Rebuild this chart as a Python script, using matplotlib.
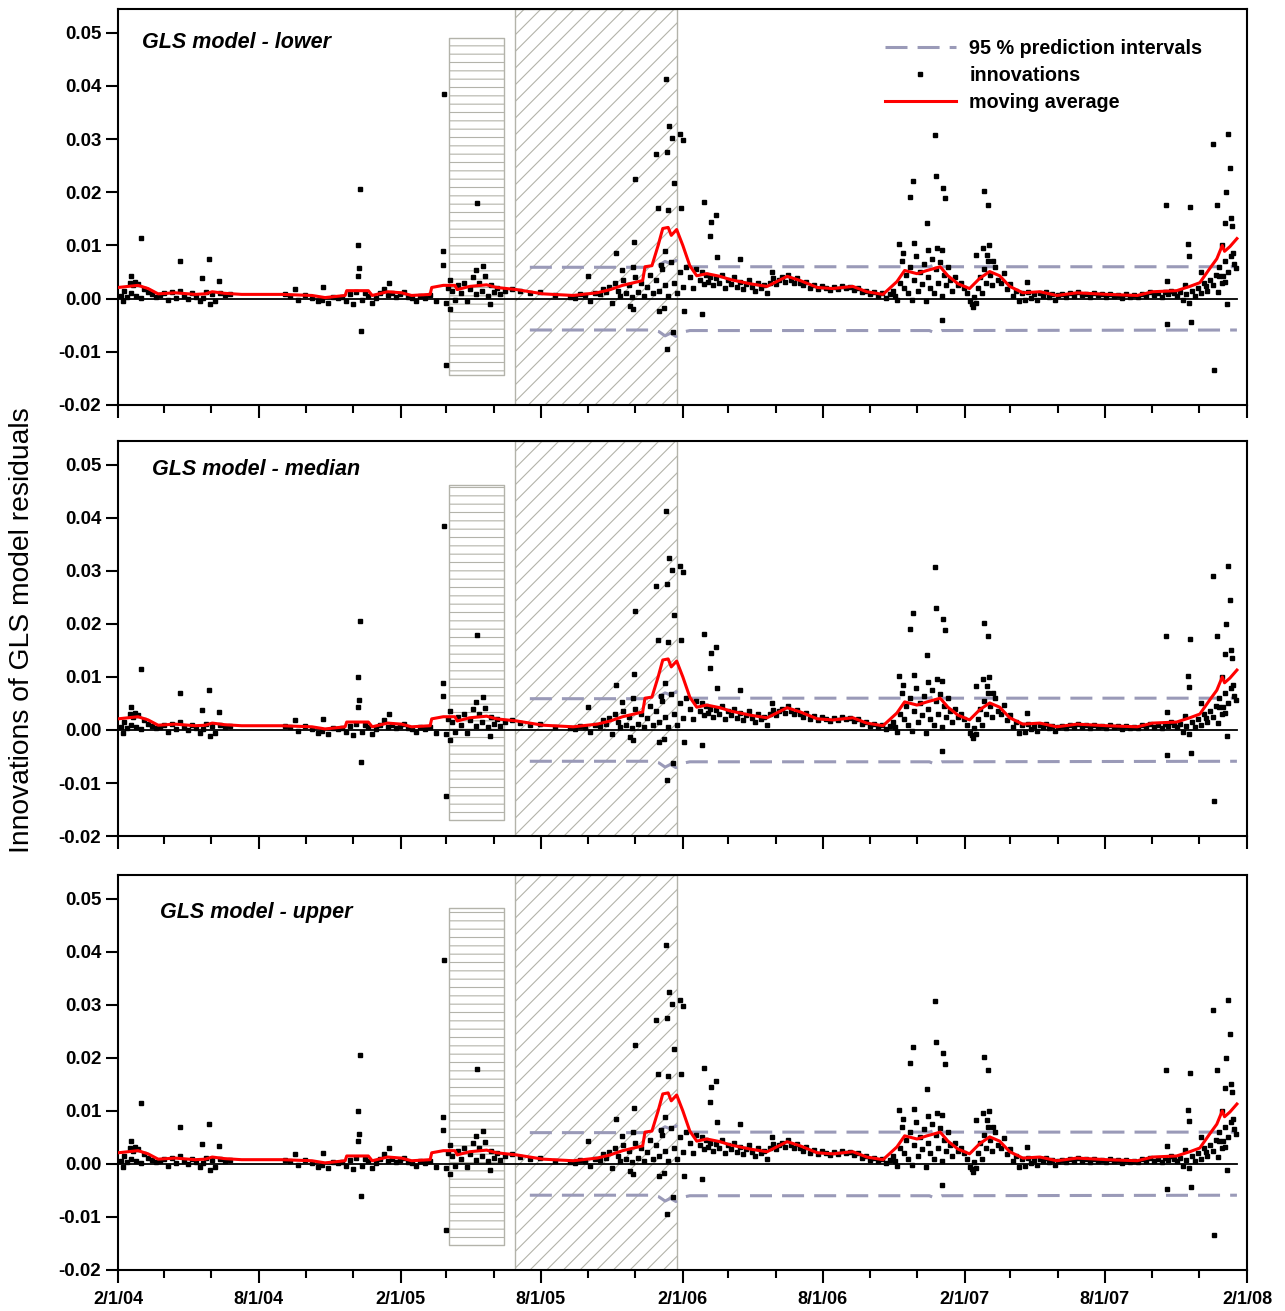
import numpy as np
import matplotlib
matplotlib.use("Agg")
import matplotlib.pyplot as plt
import matplotlib.dates as mdates
from matplotlib.lines import Line2D
from matplotlib.ticker import FormatStrFormatter, FuncFormatter, MultipleLocator

plt.rcParams['font.family'] = ['Liberation Sans', 'DejaVu Sans']
plt.rcParams['hatch.linewidth'] = 0.8

# dates are stored as days after 2/1/04
start = np.datetime64('2004-02-01')

# innovations: dense cloud around the moving average
cloud_day = [4, 6, 8, 12, 16, 17, 19, 22, 23, 26, 30, 34, 39, 44, 49, 54, 60, 65, 70, 75, 80, 85, 91, 96,
             101, 106, 110, 114, 122, 126, 132, 138, 145,
             216, 223, 233, 242, 251, 259, 264, 272, 278, 285,
             290, 295, 300, 304, 308, 316, 320, 324, 329, 334, 339, 344, 349, 355, 360, 365, 370, 375,
             380, 386, 391, 397, 404, 411,
             424, 427, 430, 432, 436, 440, 444, 448, 452, 455, 459, 463, 467, 471, 475, 479, 483, 487,
             490, 494,
             501, 510, 520, 533, 546, 565, 585, 591, 598, 604, 611, 617, 624,
             628, 631, 635, 639, 643, 647, 650, 653, 657, 661, 665, 669, 673, 677, 681, 685, 688, 692,
             696, 700, 704, 708, 712, 716, 719, 723, 727, 731, 735, 740, 744, 748,
             753, 756, 758, 761, 763, 766, 770, 774, 778, 782, 785, 789, 793, 797, 801, 805, 809, 813,
             817, 820, 824, 828, 832, 836, 840, 844, 848, 851, 855, 859, 863, 867, 871, 875, 879, 883,
             886, 890, 895, 901, 906, 911, 916, 921, 927, 932, 937, 942, 947, 952, 958, 963, 968, 973,
             978, 983, 989, 994, 999,
             1003, 1005, 1008, 1012, 1014, 1017, 1020, 1022, 1025, 1027, 1030, 1033, 1035, 1038, 1040,
             1043, 1046, 1048, 1051, 1053, 1056, 1058, 1061, 1064, 1066, 1069, 1071, 1074, 1077, 1079,
             1083, 1087, 1091, 1095, 1099, 1102, 1105, 1108, 1110, 1113, 1115, 1118, 1121, 1123, 1126,
             1128, 1131, 1135, 1139,
             1143, 1147, 1150, 1154, 1158, 1162, 1166, 1170, 1174, 1178, 1181, 1185, 1189, 1193, 1197,
             1201, 1205, 1209, 1212, 1216,
             1222, 1227, 1232, 1237, 1242, 1247, 1253, 1258, 1263, 1268, 1273, 1278, 1284, 1289, 1294,
             1299, 1304, 1310, 1315, 1320, 1325, 1330, 1335, 1341, 1346,
             1351, 1355, 1359, 1363, 1366, 1370, 1374, 1378, 1382, 1386, 1390, 1394, 1398, 1401, 1405,
             1409, 1413, 1417, 1421, 1425, 1429, 1432, 1436, 1440, 1444]
cloud_val = [0.0005, -0.0005, 0.0015, 0.0003, 0.0030, 0.0010, 0.0025, 0.0032, 0.0005, 0.0028, 0.0002,
             0.0018, 0.0012, 0.0008, 0.0003, 0.0006, 0.0010, -0.0003, 0.0012, 0.0002, 0.0015, 0.0005,
             0.0000, 0.0010, 0.0003, -0.0005, 0.0001, 0.0012, 0.0008, -0.0005, 0.0010, 0.0006, 0.0008,
             0.0008, 0.0005, -0.0002, 0.0007, 0.0001, -0.0005, -0.0002, -0.0008, 0.0004, 0.0001,
             0.0003, -0.0004, 0.0008, -0.0010, 0.0012, -0.0003, 0.0010, 0.0005, -0.0008, 0.0002, 0.0010,
             0.0018, 0.0006, 0.0010, 0.0003, 0.0008, 0.0012, 0.0004, 0.0001, -0.0004, 0.0005, 0.0002,
             0.0006, -0.0005,
             -0.0008, 0.0020, 0.0035, 0.0015, -0.0003, 0.0025, 0.0010, 0.0030, -0.0005, 0.0018, 0.0040,
             0.0008, 0.0030, 0.0015, 0.0042, 0.0005, 0.0025, 0.0012, 0.0020, 0.0008,
             0.0015, 0.0018, 0.0014, 0.0010, 0.0012, 0.0006, 0.0004, 0.0002, 0.0008, 0.0006, -0.0004,
             0.0010, 0.0008,
             0.0018, 0.0012, 0.0022, -0.0008, 0.0030, 0.0015, 0.0005, 0.0035, 0.0010, 0.0025, 0.0003,
             0.0040, 0.0012, 0.0030, 0.0005, 0.0022, 0.0045, 0.0010, 0.0035, 0.0015, 0.0055, 0.0025,
             0.0005, 0.0068, 0.0030, 0.0010, 0.0050, 0.0022, 0.0060, 0.0040, 0.0020, 0.0055,
             0.0035, 0.0050, 0.0028, 0.0045, 0.0032, 0.0040, 0.0025, 0.0038, 0.0030, 0.0045, 0.0020,
             0.0035, 0.0028, 0.0040, 0.0022, 0.0032, 0.0018, 0.0028, 0.0036, 0.0022, 0.0015, 0.0030,
             0.0020, 0.0025, 0.0010, 0.0030, 0.0038, 0.0028, 0.0035, 0.0040, 0.0032, 0.0045, 0.0036,
             0.0030, 0.0038, 0.0030,
             0.0025, 0.0032, 0.0020, 0.0026, 0.0018, 0.0024, 0.0020, 0.0016, 0.0022, 0.0018, 0.0024,
             0.0020, 0.0022, 0.0016, 0.0020, 0.0012, 0.0015, 0.0008, 0.0012, 0.0005, 0.0010, 0.0002,
             0.0008,
             0.0015, 0.0005, -0.0003, 0.0030, 0.0070, 0.0020, 0.0045, 0.0010, 0.0060, -0.0002, 0.0035,
             0.0080, 0.0015, 0.0050, 0.0028, 0.0065, -0.0005, 0.0040, 0.0020, 0.0075, 0.0010, 0.0055,
             0.0030, 0.0068, 0.0005, 0.0045, 0.0025, 0.0060, 0.0035, 0.0015, 0.0040, 0.0025, 0.0030,
             0.0020, 0.0010, -0.0005, -0.0010, 0.0003, -0.0008, 0.0020, 0.0040, 0.0010, 0.0055, 0.0030,
             0.0070, 0.0045, 0.0025, 0.0060, 0.0035,
             0.0030, 0.0048, 0.0018, 0.0028, 0.0005, 0.0015, -0.0005, 0.0010, -0.0003, 0.0012, 0.0002,
             0.0008, -0.0002, 0.0010, 0.0005, 0.0012, 0.0003, 0.0008, -0.0002, 0.0006,
             0.0008, 0.0003, 0.0010, 0.0005, 0.0012, 0.0006, 0.0009, 0.0004, 0.0010, 0.0006, 0.0008,
             0.0003, 0.0009, 0.0005, 0.0007, 0.0002, 0.0008, 0.0004, 0.0006, 0.0003, 0.0009, 0.0005,
             0.0012, 0.0006, 0.0010,
             0.0004, 0.0012, 0.0008, 0.0015, 0.0010, 0.0005, 0.0012, -0.0003, 0.0008, -0.0008, 0.0015,
             0.0005, 0.0020, 0.0010, 0.0030, 0.0015, 0.0035, 0.0025, 0.0045, 0.0060, 0.0030, 0.0070,
             0.0050, 0.0080, 0.0065]

# innovations: isolated points away from the cloud
spike_day = [17, 30, 80, 109, 118, 119, 131, 229, 265, 310, 311, 312, 313, 314, 351,
             420, 421, 422, 424, 430, 463, 465, 472, 481,
             608, 644, 652, 663, 666, 667, 668, 669, 696, 699, 700, 703, 707, 708, 709, 710, 711,
             712, 713, 717, 718, 719, 727, 729, 731, 732, 756, 758, 766, 767, 774, 775, 805, 846,
             1011, 1016, 1025, 1029, 1030, 1047, 1048, 1057, 1058, 1060, 1066, 1067, 1068, 1070,
             1106, 1110, 1119, 1121, 1124, 1126, 1127, 1132,
             1176, 1356, 1357, 1358, 1381, 1385, 1386, 1387, 1388, 1401, 1408, 1417, 1418, 1422,
             1423, 1425, 1429, 1430, 1432, 1433, 1434, 1435, 1436, 1439, 1440, 1441, 1443, 1447]
spike_val = [0.0043, 0.0115, 0.0070, 0.0038, 0.0075, -0.0011, 0.0034, 0.0019, 0.0021, 0.0043,
             0.0100, 0.0057, 0.0206, -0.0060, 0.0030,
             0.0064, 0.0089, 0.0385, -0.0125, -0.0019, 0.0053, 0.0179, 0.0062, -0.0011,
             0.0043, 0.0085, 0.0053, -0.0013, 0.0060, -0.0019, 0.0106, 0.0225, 0.0272, 0.0170,
             -0.0023, 0.0064, -0.0017, 0.0089, 0.0413, 0.0276, -0.0094, 0.0166, 0.0325, 0.0302,
             -0.0062, 0.0217, 0.0309, 0.0170, 0.0298, -0.0023, -0.0028, 0.0181, 0.0117, 0.0145,
             0.0157, 0.0079, 0.0075, 0.0051,
             0.0102, 0.0085, 0.0191, 0.0221, 0.0104, 0.0142, 0.0091, 0.0308, 0.0230, 0.0096,
             -0.0040, 0.0092, 0.0209, 0.0189,
             -0.0015, 0.0083, 0.0096, 0.0202, 0.0083, 0.0177, 0.0100, 0.0070,
             0.0032, 0.0177, -0.0047, 0.0034, 0.0026, 0.0102, 0.0081, 0.0172, -0.0043, 0.0051,
             0.0023, 0.0291, -0.0134, 0.0177, 0.0013, 0.0043, 0.0100, 0.0043, 0.0032, 0.0143,
             0.0200, -0.0011, 0.0309, 0.0245, 0.0151, 0.0136, 0.0085, 0.0057]

# moving average (red line)
ma_day = [0, 26, 39, 52, 74, 100, 113, 122, 138, 160, 212, 251, 268, 294, 296, 324, 329, 349, 367,
          380, 404, 406, 421, 436, 439, 455, 477, 490, 516, 550, 589, 620, 637, 653, 679, 682, 691,
          699, 705, 712, 716, 723, 731, 740, 749, 762, 779, 792, 818, 840, 866, 883, 905, 925, 951,
          969, 990, 1008, 1018, 1034, 1047, 1057, 1064, 1074, 1087, 1102, 1115, 1128, 1141, 1154,
          1171, 1193, 1215, 1241, 1280, 1319, 1339, 1370, 1387, 1400, 1413, 1422, 1429, 1432, 1439,
          1448]
ma_val = [0.0021, 0.0025, 0.0019, 0.0009, 0.0011, 0.0008, 0.0009, 0.0013, 0.0010, 0.0008, 0.0008,
          0.0006, 0.0002, 0.0006, 0.0015, 0.0015, 0.0006, 0.0013, 0.0011, 0.0006, 0.0008, 0.0021,
          0.0025, 0.0025, 0.0017, 0.0023, 0.0026, 0.0021, 0.0017, 0.0009, 0.0006, 0.0011, 0.0017,
          0.0025, 0.0034, 0.0060, 0.0062, 0.0100, 0.0132, 0.0134, 0.0119, 0.0130, 0.0100, 0.0062,
          0.0043, 0.0047, 0.0042, 0.0036, 0.0028, 0.0023, 0.0042, 0.0034, 0.0021, 0.0019, 0.0023,
          0.0013, 0.0008, 0.0032, 0.0053, 0.0047, 0.0053, 0.0057, 0.0060, 0.0043, 0.0028, 0.0019,
          0.0038, 0.0051, 0.0043, 0.0023, 0.0011, 0.0013, 0.0006, 0.0011, 0.0008, 0.0006, 0.0013,
          0.0015, 0.0023, 0.0030, 0.0057, 0.0075, 0.0100, 0.0089, 0.0098, 0.0113]

# 95 % prediction intervals
pi_day = [533, 690, 700, 708, 715, 722, 730, 740, 1050, 1058, 1066, 1448]
pi_upper = [0.0059, 0.0059, 0.0063, 0.0070, 0.0066, 0.0072, 0.0064, 0.0060, 0.0060, 0.0064, 0.0060, 0.0060]
pi_lower = [-0.0059, -0.0059, -0.0062, -0.0070, -0.0065, -0.0071, -0.0063, -0.0060, -0.0060, -0.0065,
            -0.0060, -0.0059]

# shaded periods
box_days = [428, 499]
box_top = [0.0490, 0.0462, 0.0483]
box_bottom = [-0.0144, -0.0170, -0.0153]
diag_days = [514, 723]

titles = ['GLS model - lower', 'GLS model - median', 'GLS model - upper']
title_x = [0.021, 0.030, 0.037]
title_y = [0.914, 0.929, 0.904]


def to_date(days):
    return start + np.array(days, dtype='timedelta64[D]')


def date_label(x, pos):
    d = mdates.num2date(x)
    return f"{d.month}/{d.day}/{d.strftime('%y')}"


fig = plt.figure(figsize=(12.85, 13.11), dpi=100)
panel_pos = [[0.0918, 0.6911, 0.8786, 0.3021],
             [0.0918, 0.3623, 0.8786, 0.3013],
             [0.0918, 0.0313, 0.8786, 0.3013]]

edge_grey = '#b3b3aa'
pi_colour = '#9a9ab8'

for i in range(3):
    ax = fig.add_axes(panel_pos[i])

    ax.axvspan(to_date([diag_days[0]])[0], to_date([diag_days[1]])[0], facecolor='white',
               edgecolor=edge_grey, hatch='//', lw=1.0, zorder=0)
    ax.fill_between(to_date(box_days), box_bottom[i], box_top[i], facecolor='white',
                    edgecolor=edge_grey, hatch='--', lw=1.0, zorder=0)

    ax.plot(to_date([0, 1448]), [0, 0], color='black', lw=1.3, zorder=2)

    l_pi, = ax.plot(to_date(pi_day), pi_upper, color=pi_colour, lw=2.2, dashes=(7.2, 3.3), zorder=3)
    ax.plot(to_date(pi_day), pi_lower, color=pi_colour, lw=2.2, dashes=(7.2, 3.3), zorder=3)

    l_in, = ax.plot(to_date(cloud_day), cloud_val, 's', color='black', ms=2.2, ls='none', zorder=4)
    ax.plot(to_date(spike_day), spike_val, 's', color='black', ms=2.2, ls='none', zorder=4)

    l_ma, = ax.plot(to_date(ma_day), ma_val, color='#ff0000', lw=2.2, zorder=5)

    ax.set_xlim(to_date([0])[0], to_date([1461])[0])
    ax.set_ylim(-0.02, 0.0545)
    ax.yaxis.set_major_locator(MultipleLocator(0.01))
    ax.yaxis.set_major_formatter(FormatStrFormatter('%.2f'))

    ax.xaxis.set_major_locator(mdates.MonthLocator(bymonth=[2, 8]))
    ax.xaxis.set_minor_locator(mdates.MonthLocator(bymonth=[4, 6, 10, 12]))
    ax.xaxis.set_major_formatter(FuncFormatter(date_label))
    if i < 2:
        ax.tick_params(axis='x', which='both', labelbottom=False)

    ax.tick_params(axis='both', which='major', direction='out', length=9, width=1.5)
    ax.tick_params(axis='x', which='minor', direction='out', length=6, width=1.5)
    ax.tick_params(axis='y', labelsize=13.5, pad=3)
    ax.tick_params(axis='x', labelsize=13, pad=6)
    for lab in ax.get_xticklabels() + ax.get_yticklabels():
        lab.set_fontweight('bold')
    for sp in ax.spines.values():
        sp.set_linewidth(1.5)

    ax.text(title_x[i], title_y[i], titles[i], transform=ax.transAxes, fontsize=15.5,
            fontstyle='italic', fontweight='bold', va='center', ha='left')

    if i == 0:
        ax.legend([l_pi, Line2D([], [], marker='s', color='black', ms=2.2, ls='none'), l_ma],
                  ['95 % prediction intervals', 'innovations', 'moving average'],
                  loc='upper left', bbox_to_anchor=(0.672, 0.943), frameon=False,
                  prop={'weight': 'bold', 'size': 14.2}, handlelength=3.6, handletextpad=0.7,
                  labelspacing=0.4, borderaxespad=0)

fig.text(0.017, 0.519, 'Innovations of GLS model residuals', rotation=90, ha='center',
         va='center', fontsize=20.3)

fig.savefig('out.png', dpi=100)
